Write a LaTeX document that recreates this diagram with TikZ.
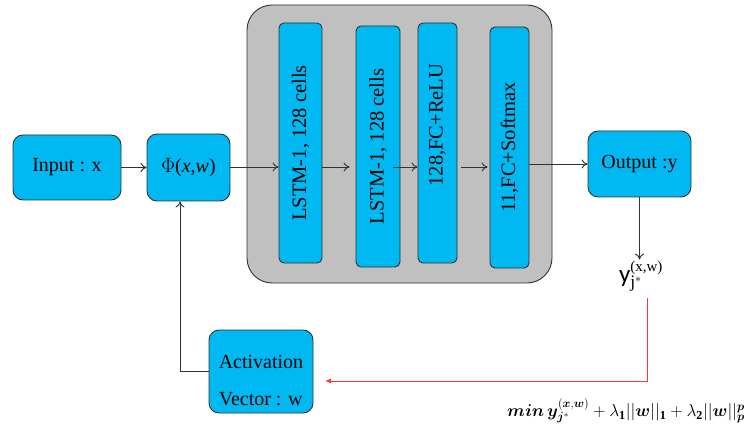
\documentclass[tikz,border=0pt]{standalone}
\usepackage{fontspec}
\usepackage{bm}
\setmainfont{Liberation Serif}
\newfontfamily\yfont{Carlito}
\usetikzlibrary{arrows.meta,calc}
\definecolor{boxblue}{RGB}{0,185,242}
\definecolor{boxgray}{RGB}{192,192,192}
\definecolor{edge}{RGB}{50,50,50}
\definecolor{redline}{RGB}{240,60,60}
\tikzset{
  bluebox/.style={draw=edge, line width=0.9pt, fill=boxblue, rounded corners=10pt, inner sep=0pt, font=\fontsize{20}{24}\selectfont},
  colbox/.style={draw=edge, line width=0.9pt, fill=boxblue, rounded corners=5pt, inner sep=0pt},
  coltext/.style={rotate=90, font=\fontsize{20.5}{24}\selectfont, inner sep=0pt},
  arr/.style={draw=edge, line width=0.9pt, -{To[length=6pt,width=9pt]}},
  redarr/.style={draw=redline, line width=0.9pt, -{Latex[length=6pt,width=5pt]}}
}
\begin{document}
\begin{tikzpicture}[x=1pt,y=-1pt]
\useasboundingbox (0,0) rectangle (751,430);
% gray container
\node[draw=edge, line width=0.9pt, fill=boxgray, rounded corners=25pt, minimum width=305, minimum height=278, inner sep=0pt] (grp) at (399.5,144) {};
% main boxes
\node[bluebox, minimum width=108, minimum height=65] (in) at (67,167.5) {Input : x};
\node[bluebox, minimum width=83, minimum height=67] (phi) at (188.5,167.5) {$\Phi$(\textit{x},\textit{w})};
\node[bluebox, minimum width=103, minimum height=66] (out) at (639.5,164) {Output :y};
\node[bluebox, minimum width=104, minimum height=83,
  label={[name=actt, align=left, yshift=-9pt, font=\fontsize{20}{37}\selectfont]center:Activation\\Vector : w}] (act) at (261,371.5) {};
% columns
\node[colbox, minimum width=43, minimum height=240] (l1) at (300.5,143) {};
\node[colbox, minimum width=44, minimum height=241] (l2) at (378,146.5) {};
\node[colbox, minimum width=39, minimum height=240] (f1) at (437.5,143) {};
\node[colbox, minimum width=39, minimum height=241] (f2) at (509.5,147.5) {};
\node[coltext] (l1t) at (l1.center) {LSTM-1, 128 cells};
\node[coltext] (l2t) at (l2.center) {LSTM-1, 128 cells};
\node[coltext] (f1t) at (437.5,125) {128,FC+ReLU};
\node[coltext] (f2t) at (f2.center) {11,FC+Softmax};
% arrows
\coordinate (mid) at (0,167);
\draw[arr] (in.east) -- (phi.west);
\draw[arr] (phi.east |- mid) -- (l1.west |- mid);
\draw[arr, shorten >=6pt] (l1.east |- mid) -- (l2.west |- mid);
\draw[arr] ([xshift=-7pt]l2.east |- mid) -- (f1.west |- mid);
\draw[arr, shorten <=4pt, shorten >=2pt] (f1.east |- mid) -- (f2.west |- mid);
\draw[arr] (f2.east |- out.west) -- (out.west);
% output label
\node[font=\yfont\fontsize{25}{30}\selectfont, inner sep=1pt] (yl) at (641,276) {y$_{\mathrm{j}^*}^{\raisebox{0pt}{\fontsize{15}{15}\selectfont\rmfamily (x,w)}}$};
\draw[arr] (out.south) -- (out.south |- yl.north);
% red feedback
\coordinate (rs) at (647,298);
\coordinate (re) at (325,381);
\draw[redarr] (rs) |- (re);
% feedback to phi
\draw[arr] (act.west) -| ([xshift=-8.5pt]phi.south);
% formula
\node[font=\fontsize{17.5}{20}\selectfont, inner sep=0pt] (eq) at (626,411) {$\bm{min\,y}_{\bm{j}^*}^{(\bm{x},\bm{w})}+\lambda_{\mathbf 1}||\bm{w}||_{\mathbf 1}+\lambda_{\mathbf 2}||\bm{w}||_{\bm p}^{\bm p}$};
\end{tikzpicture}
\end{document}
